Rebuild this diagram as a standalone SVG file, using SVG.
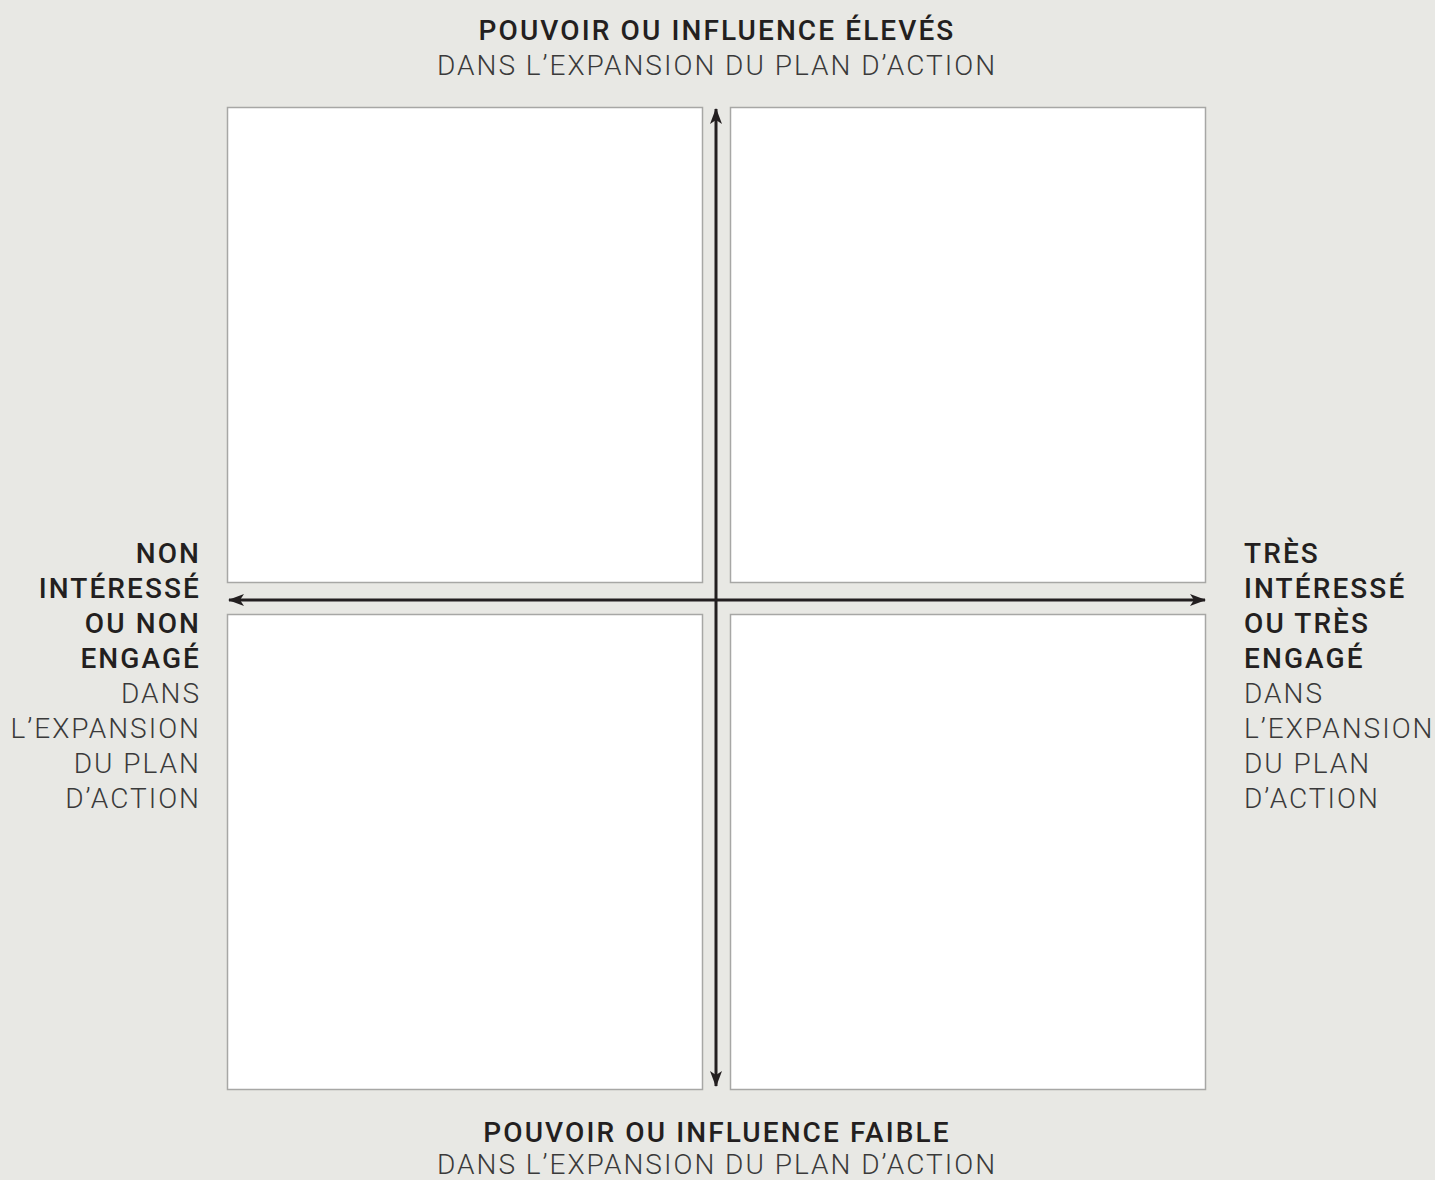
<svg xmlns="http://www.w3.org/2000/svg" width="1435" height="1180" viewBox="0 0 1435 1180">
<style>
.b{font-family:Roboto,"Liberation Sans",sans-serif;font-size:28px;font-weight:500;fill:#231f20;letter-spacing:2.1px}
.l{font-family:Roboto,"Liberation Sans",sans-serif;font-size:28px;font-weight:300;fill:#3a3a3a;letter-spacing:2px}
.q{fill:#fff;stroke:#a7a7a5;stroke-width:1.5}
.ax{stroke:#231f20;stroke-width:3;fill:none}
</style>
<defs>
<marker id="ah" markerWidth="16" markerHeight="12" refX="15" refY="6" orient="auto-start-reverse" markerUnits="userSpaceOnUse" viewBox="0 0 16 12">
<path d="M0,0 L16,6 L0,12 L4,6 Z" fill="#231f20"/>
</marker>
</defs>
<rect width="1435" height="1180" fill="#e8e8e4"/>
<g id="q-top-left"><rect class="q" x="227.5" y="107.5" width="475" height="475"/></g>
<g id="q-top-right"><rect class="q" x="730.5" y="107.5" width="475" height="475"/></g>
<g id="q-bottom-left"><rect class="q" x="227.5" y="614.5" width="475" height="475"/></g>
<g id="q-bottom-right"><rect class="q" x="730.5" y="614.5" width="475" height="475"/></g>
<g id="connectors">
<line class="ax" x1="716" y1="1086" x2="716" y2="109" marker-start="url(#ah)" marker-end="url(#ah)"/>
<line class="ax" x1="229" y1="600" x2="1205" y2="600" marker-start="url(#ah)" marker-end="url(#ah)"/>
</g>
<g id="label-top" text-anchor="middle">
<text class="b" x="717" y="40">POUVOIR OU INFLUENCE ÉLEVÉS</text>
<text class="l" x="717" y="75">DANS L’EXPANSION DU PLAN D’ACTION</text>
</g>
<g id="label-bottom" text-anchor="middle">
<text class="b" x="717" y="1142">POUVOIR OU INFLUENCE FAIBLE</text>
<text class="l" x="717" y="1174">DANS L’EXPANSION DU PLAN D’ACTION</text>
</g>
<g id="label-left" text-anchor="end">
<text class="b" x="201" y="563">NON</text>
<text class="b" x="201" y="598">INTÉRESSÉ</text>
<text class="b" x="201" y="633">OU NON</text>
<text class="b" x="201" y="668">ENGAGÉ</text>
<text class="l" x="201" y="703">DANS</text>
<text class="l" x="201" y="738">L’EXPANSION</text>
<text class="l" x="201" y="773">DU PLAN</text>
<text class="l" x="201" y="808">D’ACTION</text>
</g>
<g id="label-right">
<text class="b" x="1244" y="563">TRÈS</text>
<text class="b" x="1244" y="598">INTÉRESSÉ</text>
<text class="b" x="1244" y="633">OU TRÈS</text>
<text class="b" x="1244" y="668">ENGAGÉ</text>
<text class="l" x="1244" y="703">DANS</text>
<text class="l" x="1244" y="738">L’EXPANSION</text>
<text class="l" x="1244" y="773">DU PLAN</text>
<text class="l" x="1244" y="808">D’ACTION</text>
</g>
</svg>
